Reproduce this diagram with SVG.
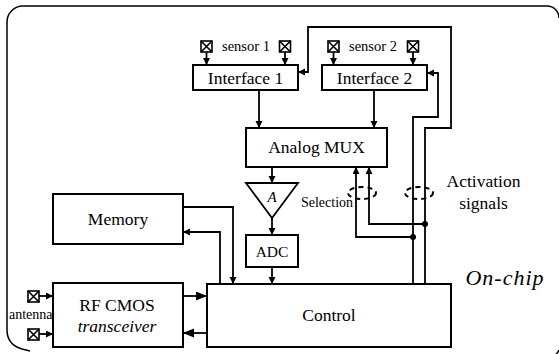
<svg xmlns="http://www.w3.org/2000/svg" width="559" height="354" viewBox="0 0 559 354">
<style>
.box{fill:#fff;stroke:#000;stroke-width:2}
.ln{fill:none;stroke:#000;stroke-width:1.8}
text{font-family:"Liberation Serif","Times New Roman","DejaVu Serif",serif;fill:#000;text-anchor:middle}
.ico{fill:#fff;stroke:#000;stroke-width:1.6}
.dash{fill:none;stroke:#000;stroke-width:2;stroke-dasharray:5 4}
</style>
<defs>
<clipPath id="vp"><rect x="0" y="0" width="559" height="354"/></clipPath>
<marker id="a" markerUnits="userSpaceOnUse" markerWidth="8" markerHeight="8" refX="7" refY="3.5" orient="auto"><path d="M0,0 L7,3.5 L0,7 z" fill="#000"/></marker>
<marker id="b" markerUnits="userSpaceOnUse" markerWidth="12" markerHeight="10" refX="11" refY="4.5" orient="auto"><path d="M0,0 L11,4.5 L0,9 z" fill="#000"/></marker>
<g id="xicon"><rect class="ico" x="0" y="0" width="11" height="11"/><path d="M0,0 L11,11 M11,0 L0,11" stroke="#000" stroke-width="1.6"/></g>
</defs>
<rect x="0" y="0" width="559" height="354" fill="#fff"/>
<g id="border" clip-path="url(#vp)">
<path d="M23,6 H547 A12,12 0 0 1 559,18 M556,354 A8,8 0 0 0 559,350 M7,22 V330 C7,340 12,346 22,349 L30,351 M7,22 A16,16 0 0 1 23,6" fill="none" stroke="#000" stroke-width="1.5"/>
</g>

<g id="connectors">
<path class="ln" d="M206.5,52 V65" marker-end="url(#a)"/>
<path class="ln" d="M285,52 V65" marker-end="url(#a)"/>
<path class="ln" d="M333.5,52 V65" marker-end="url(#a)"/>
<path class="ln" d="M413,52 V65" marker-end="url(#a)"/>
<path class="ln" d="M259,90 V128" marker-end="url(#a)"/>
<path class="ln" d="M374,90 V128" marker-end="url(#a)"/>
<path class="ln" d="M272,167 V183" marker-end="url(#a)"/>
<path class="ln" d="M272,218 V235" marker-end="url(#a)"/>
<path class="ln" d="M272,267 V284" marker-end="url(#a)"/>
<path class="ln" d="M183,207 H233 V284" marker-end="url(#a)"/>
<path class="ln" d="M220,284 V232 H183" marker-end="url(#a)"/>
<path class="ln" d="M183,296 H207" marker-end="url(#b)"/>
<path class="ln" d="M207,333 H183" marker-end="url(#b)"/>
<path class="ln" d="M39,296 H53" marker-end="url(#a)"/>
<path class="ln" d="M39,334 H53" marker-end="url(#a)"/>
<path class="ln" d="M425,284 V128 H451 V27 H308 V72 H298" marker-end="url(#a)"/>
<path class="ln" d="M413,284 V117 H438 V73 H427" marker-end="url(#a)"/>
<path class="ln" d="M425,224 H369 V167" marker-end="url(#a)"/>
<path class="ln" d="M413,237 H356 V167" marker-end="url(#a)"/>
<circle cx="425" cy="224" r="3" fill="#000"/>
<circle cx="413" cy="237" r="3" fill="#000"/>
<ellipse class="dash" cx="362" cy="193" rx="14" ry="6"/>
<ellipse class="dash" cx="419" cy="193" rx="14" ry="6"/>
</g>

<g id="sensor1">
<use href="#xicon" x="201" y="41"/>
<use href="#xicon" x="279.5" y="41"/>
<text x="246" y="51" font-size="14.5">sensor 1</text>
</g>
<g id="sensor2">
<use href="#xicon" x="328" y="41"/>
<use href="#xicon" x="407.5" y="41"/>
<text x="373" y="51" font-size="14.5">sensor 2</text>
</g>
<g id="interface1">
<rect class="box" x="193" y="65" width="105" height="25"/>
<text x="245.5" y="84" font-size="17.5">Interface 1</text>
</g>
<g id="interface2">
<rect class="box" x="322" y="65" width="105" height="25"/>
<text x="374.5" y="84" font-size="17.5">Interface 2</text>
</g>
<g id="mux">
<rect class="box" x="246" y="128" width="141" height="39"/>
<text x="316.5" y="153" font-size="17.5">Analog MUX</text>
</g>
<g id="amp">
<path d="M246,183 H298 L272,218 Z" fill="#fff" stroke="#000" stroke-width="1.8"/>
<text x="272" y="202" font-size="15" font-style="italic">A</text>
</g>
<g id="adc">
<rect class="box" x="246" y="235" width="52" height="32"/>
<text x="272" y="257" font-size="15.5">ADC</text>
</g>
<g id="memory">
<rect class="box" x="53" y="194" width="130" height="50"/>
<text x="118" y="225" font-size="17.5">Memory</text>
</g>
<g id="rf">
<rect class="box" x="53" y="283" width="130" height="64"/>
<text x="117" y="311" font-size="17.5">RF CMOS</text>
<text x="117" y="332" font-size="17.5" font-style="italic">transceiver</text>
</g>
<g id="control">
<rect class="box" x="207" y="284" width="244" height="63"/>
<text x="329" y="321" font-size="17.5">Control</text>
</g>
<g id="antenna">
<use href="#xicon" x="28" y="291"/>
<use href="#xicon" x="28" y="329"/>
<text x="9" y="319" font-size="14" style="text-anchor:start">antenna</text>
</g>
<g id="labels">
<text x="327" y="207" font-size="14">Selection</text>
<text x="483.5" y="187" font-size="17.5">Activation</text>
<text x="483.5" y="209" font-size="17.5">signals</text>
<text x="505" y="285" font-size="22" font-style="italic" letter-spacing="1">On-chip</text>
</g>
</svg>
